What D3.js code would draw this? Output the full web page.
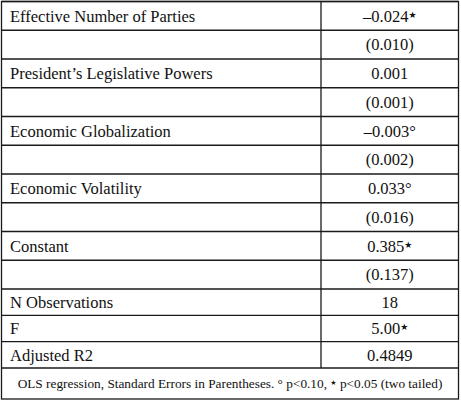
<!DOCTYPE html>
<html>
<head>
<meta charset="utf-8">
<script src="https://cdn.jsdelivr.net/npm/d3@7"></script>
<style>
body { margin: 0; background: #fff; }
text { font-family: "Liberation Serif", "DejaVu Serif", serif; fill: #111; }
.label { font-size: 16.5px; }
.value { font-size: 16.5px; }
.note { font-size: 13.3px; }
.mark { font-family: "DejaVu Sans", sans-serif; font-size: 9px; }
</style>
</head>
<body>
<svg></svg>
<script>
const variables = ["Effective Number of Parties", "President\u2019s Legislative Powers", "Economic Globalization", "Economic Volatility", "Constant"]
const coefs = ["\u20130.024", "0.001", "\u20130.003", "0.033", "0.385"]
const coefMarks = ["\u2605", "", "\u00b0", "\u00b0", "\u2605"]
const stdErrs = ["(0.010)", "(0.001)", "(0.002)", "(0.016)", "(0.137)"]

const statLabels = ["N Observations", "F", "Adjusted R2"]
const statValues = ["18", "5.00", "0.4849"]
const statMarks = ["", "\u2605", ""]

const noteParts = ["OLS regression, Standard Errors in Parentheses. \u00b0 p<0.10, ", "\u2605", " p<0.05 (two tailed)"]

const svg = d3.select("svg")
    .attr("width", 461)
    .attr("height", 407)

// coefficient rows: a label row then a standard error row
const coefRows = []
variables.forEach((v, i) => {
    coefRows.push({label: v, value: coefs[i], mark: coefMarks[i]})
    coefRows.push({label: "", value: stdErrs[i], mark: ""})
})
const statRows = statLabels.map((s, i) => ({label: s, value: statValues[i], mark: statMarks[i]}))

const left = 1.5, mid = 321, right = 458.5

const yCoef = d3.scaleBand()
    .domain(d3.range(coefRows.length))
    .range([1.5, 289])

const yStat = d3.scaleBand()
    .domain(d3.range(statRows.length))
    .range([289, 368])

const yNote = 368, bottom = 399

const rows = coefRows.map((d, i) => ({...d, y: yCoef(i), h: yCoef.bandwidth()}))
    .concat(statRows.map((d, i) => ({...d, y: yStat(i), h: yStat.bandwidth()})))

// row lines
svg.selectAll("line.row")
    .data(rows.map(d => d.y).concat([yNote]))
    .enter()
    .append("line")
    .attr("class", "row")
    .attr("x1", left)
    .attr("x2", right)
    .attr("y1", d => d)
    .attr("y2", d => d)
    .attr("stroke", "#1a1a1a")
    .attr("stroke-width", 1.3)

// outer box
svg.append("rect")
    .attr("x", left)
    .attr("y", 1.5)
    .attr("width", right - left)
    .attr("height", bottom - 1.5)
    .attr("fill", "none")
    .attr("stroke", "#1a1a1a")
    .attr("stroke-width", 1.3)

// column divider
svg.append("line")
    .attr("x1", mid)
    .attr("x2", mid)
    .attr("y1", 1.5)
    .attr("y2", yNote)
    .attr("stroke", "#1a1a1a")
    .attr("stroke-width", 1.3)

const groups = svg.selectAll("g.row")
    .data(rows)
    .enter()
    .append("g")
    .attr("class", "row")
    .attr("transform", d => `translate(0, ${d.y + d.h / 2})`)

groups.append("text")
    .attr("class", "label")
    .attr("x", 10)
    .attr("dy", "0.35em")
    .text(d => d.label)

const vals = groups.append("text")
    .attr("class", "value")
    .attr("x", (mid + right) / 2)
    .attr("dy", "0.35em")
    .attr("text-anchor", "middle")

vals.append("tspan").text(d => d.value)
vals.append("tspan")
    .attr("class", d => d.mark === "\u2605" ? "mark" : null)
    .attr("dy", d => d.mark === "\u2605" ? -4 : null)
    .text(d => d.mark)

const noteText = svg.append("text")
    .attr("class", "note")
    .attr("x", (left + right) / 2)
    .attr("y", (yNote + bottom) / 2)
    .attr("dy", "0.35em")
    .attr("text-anchor", "middle")

noteText.selectAll("tspan")
    .data(noteParts)
    .enter()
    .append("tspan")
    .attr("class", d => d === "\u2605" ? "mark" : null)
    .style("font-size", d => d === "\u2605" ? "7px" : null)
    .attr("dy", (d, i) => i === 1 ? -3.5 : i === 2 ? 3.5 : null)
    .text(d => d)
</script>
</body>
</html>
